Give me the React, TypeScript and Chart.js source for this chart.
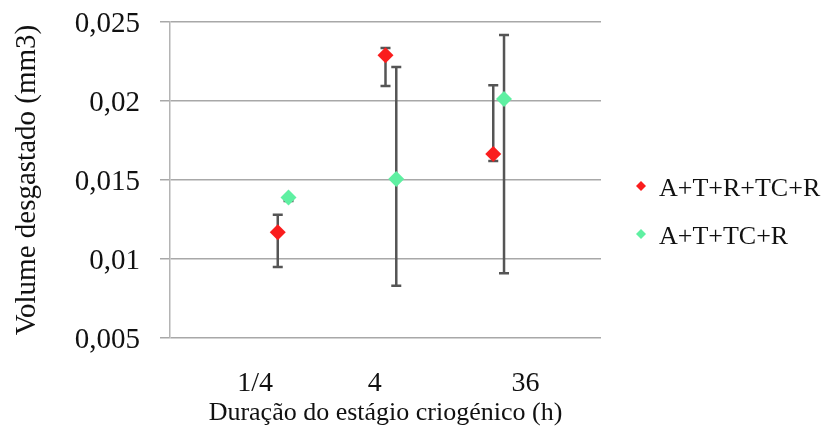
import React, { useEffect, useRef } from "react";
import { Chart, registerables } from "chart.js";

Chart.register(...registerables);

const categories = ["1/4", "4", "36"];
const seriesNames = ["A+T+R+TC+R", "A+T+TC+R"];
const seriesColors = ["#fa1d1d", "#5ff0a2"];

const valuesA = [0.0117, 0.0229, 0.01665];
const lowA = [0.0095, 0.02095, 0.0162];
const highA = [0.0128, 0.02335, 0.0210];

const valuesB = [0.0139, 0.01506, 0.02013];
const lowB = [0.01367, 0.0083, 0.0091];
const highB = [0.01393, 0.02215, 0.02418];

const yTicks = [0.005, 0.01, 0.015, 0.02, 0.025];
const categoryTickValues = [0.79, 1.9, 3.3];
const seriesOffsets = [0, 0.1];

const FONT = "'Liberation Serif', 'Times New Roman', serif";

const errorBarPlugin = {
  id: "errorBars",
  beforeDatasetsDraw(chart: any) {
    const ctx = chart.ctx;
    const xs = chart.scales.x;
    const ys = chart.scales.y;
    ctx.save();
    ctx.strokeStyle = "#555555";
    ctx.lineWidth = 2.5;
    chart.data.datasets.forEach((ds: any) => {
      ds.data.forEach((p: any) => {
        const x = xs.getPixelForValue(p.x);
        const y1 = ys.getPixelForValue(p.lo);
        const y2 = ys.getPixelForValue(p.hi);
        ctx.beginPath();
        ctx.moveTo(x, y1);
        ctx.lineTo(x, y2);
        ctx.moveTo(x - 5, y1);
        ctx.lineTo(x + 5, y1);
        ctx.moveTo(x - 5, y2);
        ctx.lineTo(x + 5, y2);
        ctx.stroke();
      });
    });
    ctx.restore();
  },
};

const legendPlugin = {
  id: "sideLegend",
  afterDraw(chart: any) {
    const ctx = chart.ctx;
    const area = chart.chartArea;
    const mid = chart.height / 2 - 7;
    ctx.save();
    chart.data.datasets.forEach((ds: any, i: number) => {
      const y = mid + (i - 0.5) * 48;
      const x = area.right + 40;
      ctx.fillStyle = ds.backgroundColor;
      ctx.beginPath();
      ctx.moveTo(x, y - 5);
      ctx.lineTo(x + 5, y);
      ctx.lineTo(x, y + 5);
      ctx.lineTo(x - 5, y);
      ctx.closePath();
      ctx.fill();
      ctx.fillStyle = "#111111";
      ctx.font = `26px ${FONT}`;
      ctx.textBaseline = "middle";
      ctx.textAlign = "left";
      ctx.fillText(ds.label, x + 18, y + 3);
    });
    ctx.restore();
  },
};

export default function App() {
  const ref = useRef<HTMLCanvasElement>(null);
  useEffect(() => {
    document.body.style.margin = "0";
    const mk = (vals: number[], lo: number[], hi: number[], off: number) =>
      vals.map((v, i) => ({ x: i + 1 + off, y: v, lo: lo[i], hi: hi[i] }));
    const chart = new Chart(ref.current!, {
      type: "scatter",
      data: {
        datasets: [
          {
            label: seriesNames[0],
            data: mk(valuesA, lowA, highA, seriesOffsets[0]),
            backgroundColor: seriesColors[0],
            borderColor: seriesColors[0],
            pointStyle: "rectRot",
            pointRadius: 8,
            borderWidth: 0,
          },
          {
            label: seriesNames[1],
            data: mk(valuesB, lowB, highB, seriesOffsets[1]),
            backgroundColor: seriesColors[1],
            borderColor: seriesColors[1],
            pointStyle: "rectRot",
            pointRadius: 8,
            borderWidth: 0,
          },
        ],
      },
      options: {
        animation: false,
        responsive: false,
        layout: { padding: { top: 22, right: 223, left: 0, bottom: 0 } },
        plugins: { legend: { display: false }, tooltip: { enabled: false } },
        scales: {
          x: {
            type: "linear",
            min: 0,
            max: 4,
            afterFit: (s: any) => {
              s.height = 96;
              s.paddingLeft = 0;
              s.paddingRight = 0;
            },
            afterBuildTicks: (s: any) => {
              s.ticks = categoryTickValues.map((v) => ({ value: v }));
            },
            grid: { display: false, drawTicks: false },
            border: { display: false },
            ticks: {
              padding: 29,
              color: "#111111",
              font: { family: FONT, size: 28 },
              maxRotation: 0,
              autoSkip: false,
              callback: (_v: any, i: number) => categories[i],
            },
            title: {
              display: true,
              text: "Duração do estágio criogénico (h)",
              color: "#111111",
              font: { family: FONT, size: 26 },
              padding: { top: 0, bottom: 5 },
            },
          },
          y: {
            min: 0.005,
            max: 0.025,
            afterFit: (s: any) => {
              s.width = 170;
              s.paddingTop = 0;
              s.paddingBottom = 0;
            },
            afterBuildTicks: (s: any) => {
              s.ticks = yTicks.map((v) => ({ value: v }));
            },
            grid: { color: "#a8a8a8", lineWidth: 1.5, tickLength: 10 },
            border: { display: true, color: "#b4b4b4", width: 1.5 },
            ticks: {
              padding: 20,
              labelOffset: 2,
              color: "#111111",
              font: { family: FONT, size: 29 },
              callback: (v: any) => Number(Number(v).toFixed(3)).toString().replace(".", ","),
            },
            title: {
              display: true,
              text: "Volume desgastado (mm3)",
              color: "#111111",
              font: { family: FONT, size: 29 },
              padding: { top: 10, bottom: 0 },
            },
          },
        },
      },
      plugins: [errorBarPlugin, legendPlugin],
    } as any);
    return () => chart.destroy();
  }, []);
  return (
    <div style={{ width: 824, height: 434, background: "#fff" }}>
      <canvas ref={ref} width={824} height={434} style={{ display: "block" }} />
    </div>
  );
}
